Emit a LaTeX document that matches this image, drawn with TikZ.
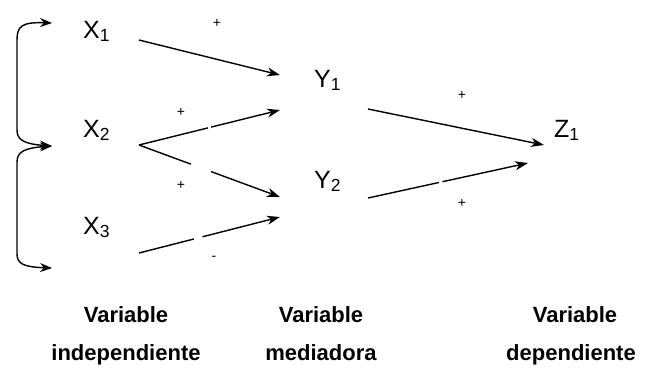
\documentclass[tikz,border=0pt]{standalone}
\usepackage{fontspec}
\setmainfont{Liberation Sans}
\usetikzlibrary{arrows.meta,calc}
\begin{document}
\begin{tikzpicture}[x=1pt,y=-1pt,
  var/.style={inner sep=0pt,anchor=base west,font=\fontsize{25}{28}\selectfont},
  sgn/.style={inner sep=0pt,font=\fontsize{14}{16}\selectfont},
  captxt/.style={inner sep=0pt,anchor=base,font=\fontsize{22}{24}\selectfont\bfseries},
  arr/.style={line width=1.4pt,-{Stealth[length=13pt,width=9pt,inset=4pt]}},
  brk/.style={line width=1.4pt,{Stealth[length=12pt,width=9pt,inset=4pt]}-{Stealth[length=12pt,width=9pt,inset=4pt]}},
  gap/.style={white,line width=4pt}]
\useasboundingbox (0,0) rectangle (646,368);
\newcommand{\vsub}[1]{$_{\fontsize{18}{18}\selectfont\mathrm{#1}}$}
% variable nodes
\node[var] (X1) at (83,38) {X\vsub{1}};
\node[var] (X2) at (83,137) {X\vsub{2}};
\node[var] (X3) at (83,234) {X\vsub{3}};
\node[var] (Y1) at (314,87) {Y\vsub{1}};
\node[var] (Y2) at (314,188) {Y\vsub{2}};
\node[var] (Z1) at (554,137) {Z\vsub{1}};
% connector end points
\coordinate (x1o) at (139,40);
\coordinate (x2o) at (139,145);
\coordinate (x3o) at (139,253);
\coordinate (y1a) at (280,75);
\coordinate (y1b) at (280,110);
\coordinate (y2a) at (280,197);
\coordinate (y2b) at (280,217);
\coordinate (y1o) at (368,109);
\coordinate (y2o) at (368,198);
\coordinate (z1a) at (544,145);
\coordinate (z1b) at (528,163);
% arrows
\draw[arr] (x1o) -- (y1a);
\draw[arr] (x2o) -- (y1b);
\draw[arr] (x2o) -- (y2a);
\draw[arr] (x3o) -- (y2b);
\draw[arr] (y1o) -- (z1a);
\draw[arr] (y2o) -- (z1b);
% small breaks in lines
\draw[gap] ($(x2o)!0.49!(y1b)$) -- ($(x2o)!0.51!(y1b)$);
\draw[gap] ($(x2o)!0.37!(y2a)$) -- ($(x2o)!0.51!(y2a)$);
\draw[gap] ($(x3o)!0.39!(y2b)$) -- ($(x3o)!0.45!(y2b)$);
\draw[gap] ($(y2o)!0.445!(z1b)$) -- ($(y2o)!0.465!(z1b)$);
% signs
\node[sgn] (s1) at (217,23) {+};
\node[sgn] (s2) at (181,112) {+};
\node[sgn] (s3) at (181,185) {+};
\node[sgn] (s4) at (214,258) {-};
\node[sgn] (s5) at (462,95) {+};
\node[sgn] (s6) at (462,203) {+};
% brackets
\coordinate (bt) at (52,23);
\coordinate (bm) at (52,146);
\coordinate (bb) at (52,268);
\draw[brk] (bt) .. controls (22,22) and (17,26) .. (17,40) -- (17,130) .. controls (17,140) and (24,144) .. (bm);
\draw[brk] (bm) .. controls (24,148) and (17,152) .. (17,162) -- (17,254) .. controls (17,264) and (24,267) .. (bb);
% captions
\node[captxt] (c1) at (126,322) {Variable};
\node[captxt] (c2) at (126,360) {independiente};
\node[captxt] (c3) at (321,322) {Variable};
\node[captxt] (c4) at (321,360) {mediadora};
\node[captxt] (c5) at (575,322) {Variable};
\node[captxt] (c6) at (571,360) {dependiente};
\end{tikzpicture}
\end{document}
